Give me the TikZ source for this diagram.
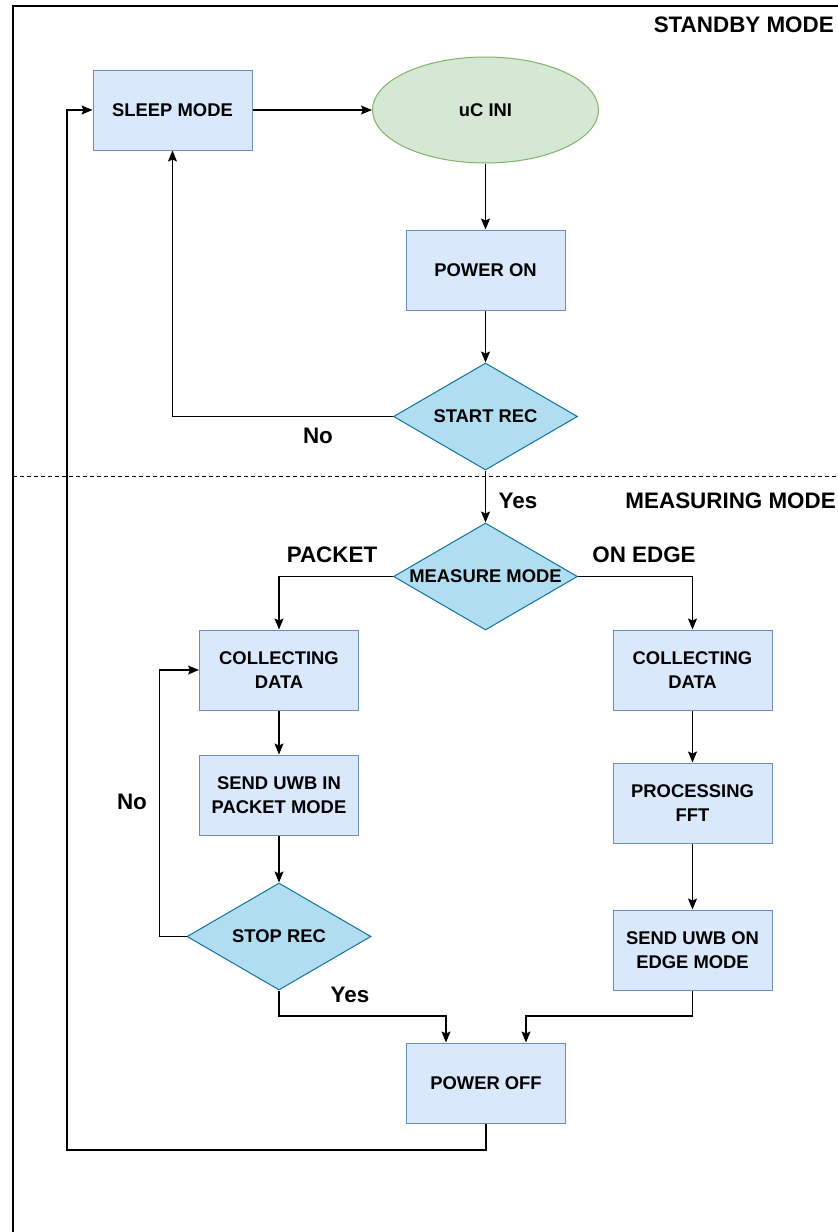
\documentclass[tikz,border=0pt]{standalone}
\usepackage{fontspec}
\setmainfont{Liberation Sans}
\usetikzlibrary{shapes.geometric,arrows.meta}
\definecolor{boxfill}{HTML}{DAE8FC}
\definecolor{boxline}{HTML}{6C8EBF}
\definecolor{ellfill}{HTML}{D5E8D4}
\definecolor{ellline}{HTML}{82B366}
\definecolor{dfill}{HTML}{B1DDF0}
\definecolor{dline}{HTML}{10739E}
\begin{document}
\begin{tikzpicture}[x=1pt,y=-1pt,
  boxnode/.style={draw=boxline,fill=boxfill,line width=1pt,minimum width=159pt,minimum height=80pt,align=center,font=\fontsize{18.4}{24}\selectfont\bfseries,inner sep=0pt},
  ellnode/.style={ellipse,draw=ellline,fill=ellfill,line width=1pt,minimum width=226pt,minimum height=106pt,font=\fontsize{18.4}{24}\selectfont\bfseries,inner sep=0pt},
  dnode/.style={diamond,aspect=1.72,draw=dline,fill=dfill,line width=1pt,minimum width=184pt,minimum height=107pt,font=\fontsize{18.4}{24}\selectfont\bfseries,inner sep=0pt},
  lbl/.style={font=\fontsize{22.4}{26}\selectfont\bfseries,inner sep=0pt},
  conn/.style={line width=1.2pt,-{Stealth[length=11pt,width=9pt,inset=2pt]}},
  plain/.style={line width=1.2pt}]
\useasboundingbox (0,0) rectangle (838,1232);
% frame
\draw[line width=1.2pt] (13,1240) -- (13,6) -- (846,6);
\draw[dashed,line width=1pt,dash pattern=on 4pt off 3pt] (13,476) -- (838,476);
% labels
\node[lbl,anchor=east] (standby) at (834,25) {STANDBY MODE};
\node[lbl,anchor=east] (measuring) at (836,501) {MEASURING MODE};
% nodes
\node[boxnode] (sleep) at (172.5,110) {SLEEP MODE};
\node[ellnode] (ini) at (485.5,110) {uC INI};
\node[boxnode] (pon) at (485.5,270) {POWER ON};
\node[dnode] (start) at (485.5,416.5) {START REC};
\node[dnode] (mm) at (485.5,576.5) {MEASURE MODE};
\node[boxnode] (cd1) at (279,670) {COLLECTING\\DATA};
\node[boxnode] (su1) at (279,795) {SEND UWB IN\\PACKET MODE};
\node[dnode] (stop) at (279,936.5) {STOP REC};
\node[boxnode] (cd2) at (692.5,670) {COLLECTING\\DATA};
\node[boxnode] (fft) at (692.5,803) {PROCESSING\\FFT};
\node[boxnode] (su2) at (692.5,950) {SEND UWB ON\\EDGE MODE};
\node[boxnode] (poff) at (486,1083) {POWER OFF};
\coordinate (loopL) at (67,1150);
% connectors
\draw[conn] (sleep.east) -- (ini.west);
\draw[conn] (ini.south) -- (pon.north);
\draw[conn] (pon.south) -- (start.north);
\draw[conn] (start.west) -| (sleep.south);
\draw[conn] (start.south) -- (mm.north);
\draw[conn] (mm.west) -| (cd1.north);
\draw[conn] (mm.east) -| (cd2.north);
\draw[conn] (cd1.south) -- (su1.north);
\draw[conn] (su1.south) -- (stop.north);
\draw[conn] (stop.west) -- ++(-27,0) |- (cd1.west);
\draw[conn] (cd2.south) -- (fft.north);
\draw[conn] (fft.south) -- (su2.north);
\draw[conn] (stop.south) -- (279,1016) -| ([xshift=-40pt]poff.north);
\draw[conn] (su2.south) -- (692.5,1016) -| ([xshift=40pt]poff.north);
\draw[conn] (poff.south) |- (loopL) |- (sleep.west);
% edge labels
\node[lbl] (no1) at (318,436) {No};
\node[lbl] (yes1) at (518,501) {Yes};
\node[lbl] (packet) at (332,555) {PACKET};
\node[lbl] (onedge) at (644,555) {ON EDGE};
\node[lbl] (no2) at (132,802) {No};
\node[lbl] (yes2) at (350,995) {Yes};
\end{tikzpicture}
\end{document}
